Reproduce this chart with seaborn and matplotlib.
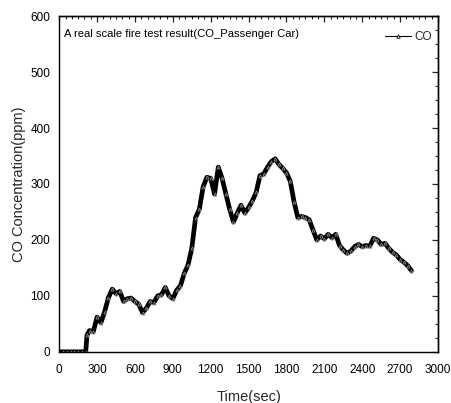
import matplotlib
matplotlib.use("Agg")
import matplotlib.pyplot as plt
import seaborn as sns
import pandas as pd
from matplotlib.ticker import MultipleLocator
from matplotlib.lines import Line2D

# ---- data ----
time_s = [0, 30, 60, 90, 120, 150, 180, 210, 220, 240, 270, 300, 330, 360, 390,
          420, 450, 480, 510, 540, 570, 600, 630, 660, 690, 720, 750, 780, 810,
          840, 870, 900, 930, 960, 990, 1020, 1050, 1080, 1110, 1140, 1170, 1200,
          1230, 1260, 1290, 1320, 1350, 1380, 1410, 1440, 1470, 1500, 1530, 1560,
          1590, 1620, 1650, 1680, 1710, 1740, 1770, 1800, 1830, 1860, 1890, 1920,
          1950, 1980, 2010, 2040, 2070, 2100, 2130, 2160, 2190, 2220, 2250, 2280,
          2310, 2340, 2370, 2400, 2430, 2460, 2490, 2520, 2550, 2580, 2610, 2640,
          2670, 2700, 2730, 2760, 2790]
co_ppm = [0, 0, 0, 0, 0, 0, 0, 0, 30, 38, 36, 62, 52, 72, 97,
          112, 104, 108, 90, 95, 96, 90, 85, 70, 78, 90, 88, 100, 102,
          115, 100, 95, 110, 118, 140, 155, 185, 240, 255, 295, 312, 310,
          282, 330, 310, 282, 255, 232, 248, 262, 248, 258, 270, 285,
          315, 318, 330, 340, 345, 335, 328, 320, 305, 268, 240, 242,
          240, 236, 218, 200, 207, 202, 210, 204, 210, 190, 182, 176,
          180, 188, 192, 188, 190, 189, 203, 200, 192, 194, 185, 178,
          173, 165, 160, 154, 145]

title_text = "A real scale fire test result(CO_Passenger Car)"
series_name = "CO"
x_label = "Time(sec)"
y_label = "CO Concentration(ppm)"

df = pd.DataFrame({"t": time_s, "co": co_ppm})

sns.set_theme(style="white")
plt.rcParams["font.family"] = ["Liberation Sans", "DejaVu Sans"]

fig = plt.figure(figsize=(4.52, 4.03), dpi=100)
ax = fig.add_axes([0.131, 0.127, 0.838, 0.833])

sns.lineplot(data=df, x="t", y="co", ax=ax, color="black", linewidth=3.4,
             marker="^", markersize=2.2, markerfacecolor="none",
             markeredgecolor="#8a8a8a", markeredgewidth=0.6)

ax.set_xlim(0, 3000)
ax.set_ylim(0, 600)
ax.xaxis.set_major_locator(MultipleLocator(300))
ax.xaxis.set_minor_locator(MultipleLocator(50))
ax.yaxis.set_major_locator(MultipleLocator(100))
ax.yaxis.set_minor_locator(MultipleLocator(25))

for s in ax.spines.values():
    s.set_color("black")
    s.set_linewidth(1.0)

ax.tick_params(axis="both", which="major", direction="out", length=4.5, width=0.9,
               colors="black", labelsize=8.5, pad=2)
ax.tick_params(axis="x", which="major", pad=4)
ax.tick_params(axis="both", which="minor", direction="out", length=2.3, width=0.8,
               colors="black")
# mirrored ticks on top/right pointing inward
axt = ax.secondary_xaxis("top")
axt.xaxis.set_major_locator(MultipleLocator(300))
axt.xaxis.set_minor_locator(MultipleLocator(50))
axt.tick_params(which="major", direction="in", length=4, width=0.9, labeltop=False)
axt.tick_params(which="minor", direction="in", length=2.3, width=0.8)
axt.spines["top"].set_linewidth(1.0)
axr = ax.secondary_yaxis("right")
axr.yaxis.set_major_locator(MultipleLocator(100))
axr.yaxis.set_minor_locator(MultipleLocator(25))
axr.tick_params(which="major", direction="in", length=4, width=0.9, labelright=False)
axr.tick_params(which="minor", direction="in", length=2.3, width=0.8)
axr.spines["right"].set_linewidth(1.0)

ax.set_xlabel(x_label, fontsize=10.5, labelpad=10)
ax.set_ylabel(y_label, fontsize=10.5, labelpad=3)

ax.text(0.012, 0.948, title_text, transform=ax.transAxes, fontsize=8.1,
        va="center", ha="left", color="black")

handle = Line2D([], [], color="black", linewidth=0.8, marker="^", markersize=2.5,
                markerfacecolor="white", markeredgecolor="black", markeredgewidth=0.6)
ax.legend([handle], [series_name], loc="center right", frameon=False,
          fontsize=8.5, handlelength=2.2, handletextpad=0.3,
          bbox_to_anchor=(0.997, 0.937), borderaxespad=0.0)

fig.savefig("out.png", dpi=100)
